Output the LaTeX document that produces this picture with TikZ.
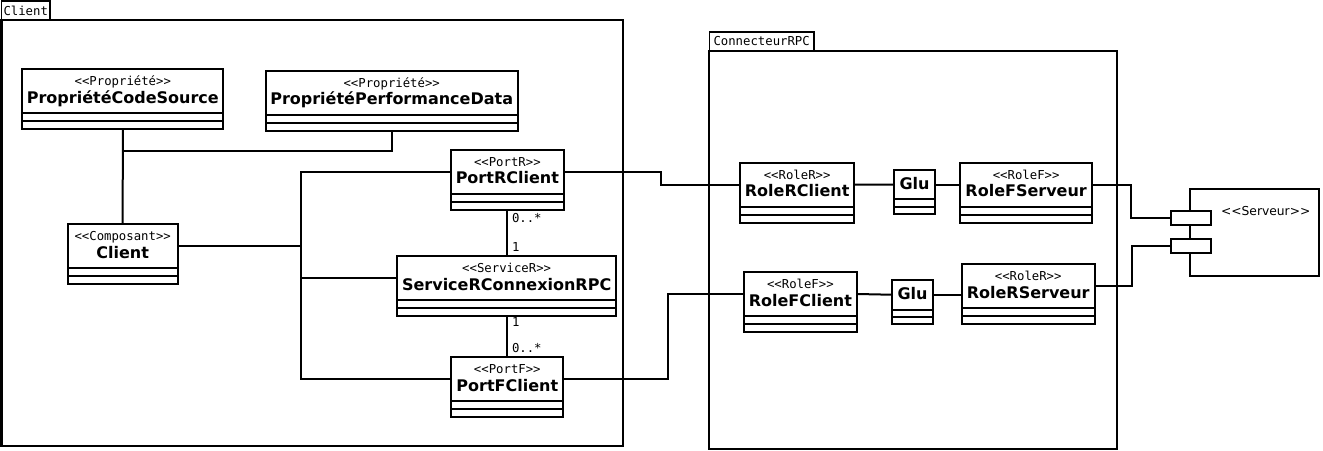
\documentclass[tikz,border=0pt]{standalone}
\usepackage{fontspec}
\setmainfont{DejaVu Sans}
\newfontfamily\monof{DejaVu Sans Mono}
\newcommand\stl{<\kern0bp<}
\newcommand\sgr{>\kern0bp>}
\newcommand\stereofont{\monof\fontsize{12.3bp}{14bp}\selectfont}
\newcommand\titlefont{\fontsize{16bp}{19bp}\selectfont\bfseries}
\newcommand\tabfont{\monof\fontsize{12.3bp}{14bp}\selectfont}
\newcommand\srvfont{\fontsize{12.3bp}{14bp}\selectfont}
\tikzset{
  hdr/.style={draw, rectangle, inner sep=0, outer sep=0, fill=white},
  comp/.style={draw, rectangle, inner sep=0, outer sep=0, minimum height=8bp},
  stereo/.style={font=\stereofont, inner sep=0},
  titl/.style={font=\titlefont, inner sep=0},
  frame/.style={draw, rectangle, inner sep=0, outer sep=0},
  tabbox/.style={draw, rectangle, line width=1.2bp, inner sep=0, outer sep=0, font=\tabfont},
  portbox/.style={draw, rectangle, fill=white, inner sep=0, outer sep=0, minimum width=40bp, minimum height=13.7bp},
  mult/.style={font=\stereofont, inner sep=0, anchor=base west},
  conn/.style={line width=2bp}
}
\newcommand\umlbox[6]{%
  \node[hdr, minimum width=#4bp, minimum height=44bp, anchor=north west] (#1) at (#2,#3) {};
  \node[comp, minimum width=#4bp, anchor=north] (#1-c1) at (#1.south) {};
  \node[comp, minimum width=#4bp, anchor=north] (#1-c2) at (#1-c1.south) {};
  \node[stereo, anchor=base] (#1-s) at ([yshift=-16.5bp]#1.north) {\stl #5\sgr};
  \node[titl, anchor=base] (#1-t) at ([yshift=-34bp]#1.north) {#6};
}
\newcommand\glubox[3]{%
  \node[hdr, minimum width=40.5bp, minimum height=29.5bp, anchor=north west] (#1) at (#2,#3) {};
  \node[comp, minimum width=40.5bp, minimum height=7.4bp, anchor=north] (#1-c1) at (#1.south) {};
  \node[comp, minimum width=40.5bp, minimum height=7.4bp, anchor=north] (#1-c2) at (#1-c1.south) {};
  \node[titl, anchor=base] (#1-t) at ([yshift=-19.3bp]#1.north) {Glu};
}
\begin{document}
\begin{tikzpicture}[x=1bp, y=-1bp, line width=2bp]
\useasboundingbox (0,0) rectangle (1323,451);

% frames
\node[frame, minimum width=621.8bp, minimum height=425.5bp, anchor=north west] (clientframe) at (1.5,20.5) {};
\node[tabbox, minimum width=48.5bp, minimum height=19.5bp, anchor=south west] (clienttab) at (1.5,20.5) {Client};
\node[frame, minimum width=408bp, minimum height=397.5bp, anchor=north west] (connframe) at (709.3,51) {};
\node[tabbox, minimum width=104.7bp, minimum height=19bp, anchor=south west] (conntab) at (709.3,51) {ConnecteurRPC};

% client side
\umlbox{pcs}{22.3}{69.3}{201}{Propriété}{PropriétéCodeSource}
\umlbox{ppd}{265.7}{70.7}{252}{Propriété}{PropriétéPerformanceData}
\umlbox{cli}{67.7}{224.3}{110}{Composant}{Client}
\umlbox{portr}{450.7}{150}{113.3}{PortR}{PortRClient}
\umlbox{serv}{397.3}{256}{218.7}{ServiceR}{ServiceRConnexionRPC}
\umlbox{portf}{451.3}{357.3}{112}{PortF}{PortFClient}

% connector side
\umlbox{rrc}{740}{162.7}{114.3}{RoleR}{RoleRClient}
\glubox{glua}{894.3}{170}
\umlbox{rfs}{960.3}{162.7}{131.7}{RoleF}{RoleFServeur}
\umlbox{rfc}{743.7}{272}{113.3}{RoleF}{RoleFClient}
\glubox{glub}{892.3}{280}
\umlbox{rrs}{961.7}{264}{133}{RoleR}{RoleRServeur}

% serveur
\node[frame, minimum width=129.3bp, minimum height=86.7bp, anchor=north west] (srv) at (1190,189.3) {};
\node[portbox, anchor=north west] (p1) at (1170.7,211.3) {};
\node[portbox, anchor=north west] (p2) at (1170.7,239.3) {};
\node[font=\srvfont, inner sep=0, anchor=base west] (srvlabel) at (1220,215.7) {\stl Serveur\sgr};

% connectors: properties
\coordinate (j1) at (123,151.2);
\draw[conn] (pcs-c2.south) -- (cli.north);
\draw[conn] (ppd-c2.south) |- (j1);

% bus
\coordinate (busx) at (300.7,0);
\draw[conn] (portr.west) -- (portr.west -| busx) -- (portf.west -| busx) -- (portf.west);
\draw[conn] (cli.east) -- (cli.east -| busx);
\draw[conn] (serv.west) -- (serv.west -| busx);

% ports - service
\draw[conn] (portr-c2.south) -- (portr-c2.south |- serv.north);
\draw[conn] (serv-c2.south) -- (serv-c2.south |- portf.north);
\node[mult] (m1) at (511,223) {0..*};
\node[mult] (m2) at (511,251.7) {1};
\node[mult] (m3) at (511,326.7) {1};
\node[mult] (m4) at (511,352.7) {0..*};

% to connector
\draw[conn] (portr.east) -- ++(97,0) |- (rrc.west);
\draw[conn] (portf.east) -- ++(105,0) |- (rfc.west);

% roles - glu
\draw[conn] (rrc.east) -- (glua.west);
\draw[conn] (glua.east) -- (glua.east -| rfs.west);
\draw[conn] (rfc.east) -- (glub.west);
\draw[conn] (glub.east) -- (glub.east -| rrs.west);

% to serveur
\draw[conn] (rfs.east) -- ++(39,0) |- (p1.west);
\draw[conn] (rrs.east) -- ++(36.8,0) |- (p2.west);
\end{tikzpicture}
\end{document}
